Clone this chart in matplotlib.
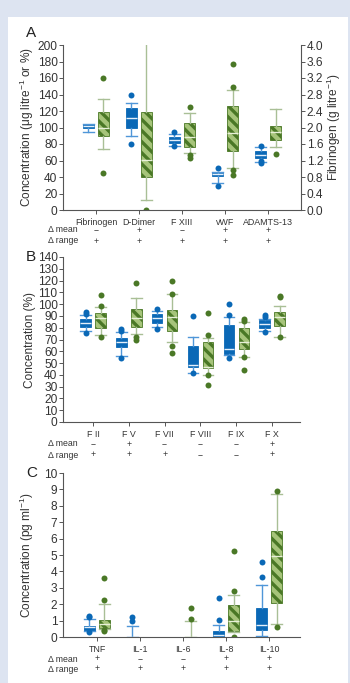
import matplotlib
matplotlib.use("Agg")
import matplotlib.pyplot as plt
from matplotlib.patches import Rectangle

plt.rcParams['font.family'] = ['Liberation Sans', 'DejaVu Sans']
plt.rcParams['mathtext.fontset'] = 'custom'
plt.rcParams['mathtext.rm'] = 'Liberation Sans'
plt.rcParams['mathtext.it'] = 'Liberation Sans:italic'
plt.rcParams['hatch.linewidth'] = 2.4

# ---------------- panel A ----------------
a_cats = ['Fibrinogen', 'D-Dimer', 'F XIII', 'vWF', 'ADAMTS-13']
a_mean = ['\u2212', '+', '\u2212', '+', '+']
a_range = ['+', '+', '+', '+', '+']
# blue series: q1, median, q3, lower whisker, upper whisker, outliers
a_blue_q1 = [100, 100, 81, 41, 63]
a_blue_med = [102, 111, 84.5, 43.5, 66.5]
a_blue_q3 = [104, 124, 88, 45, 72]
a_blue_lo = [95, 90, 78, 33, 58]
a_blue_hi = [104, 130, 92, 46, 76]
a_blue_fl = [[], [140, 80], [95, 77], [50.5, 29], [77.5, 60, 56.5]]
a_green_q1 = [90, 40, 76, 72, 85]
a_green_med = [99, 60.5, 89, 93, 94]
a_green_q3 = [119, 119, 106, 126, 102]
a_green_lo = [74, 12, 69, 51, 76]
a_green_hi = [135, 215, 118, 146, 123]
a_green_fl = [[160, 45], [0], [125, 66.5, 62.5], [176.5, 148.5, 49, 42.5], [68]]

# ---------------- panel B ----------------
b_cats = ['F II', 'F V', 'F VII', 'F VIII', 'F IX', 'F X']
b_mean = ['\u2212', '+', '\u2212', '\u2212', '\u2212', '+']
b_range = ['+', '+', '+', '\u2212', '\u2212', '+']
b_blue_q1 = [80.5, 64, 83.7, 46.4, 57.7, 80]
b_blue_med = [84.3, 68, 88, 48.4, 61.7, 83.2]
b_blue_q3 = [87.3, 71, 91.6, 64.5, 82.3, 86.5]
b_blue_lo = [77.3, 56, 80.3, 41.8, 56.6, 77.5]
b_blue_hi = [90.5, 76.6, 94.2, 71.9, 89.3, 87.4]
b_blue_fl = [[93, 91.6, 75.3], [79.2, 77.5, 54.6], [96.2, 78.6], [90.2, 41.3], [99.9, 91, 54], [90.8, 89.3, 76.6]]
b_green_q1 = [79.6, 80.3, 77.5, 45.6, 61.7, 81.4]
b_green_med = [88, 88, 89.3, 47, 68.1, 88.8]
b_green_q3 = [92.8, 95.6, 95, 67.6, 80, 93]
b_green_lo = [74, 74.4, 68.1, 39.9, 55.4, 71.9]
b_green_hi = [97.5, 105.5, 108.3, 71, 84.6, 98.7]
b_green_fl = [[107.5, 98.5, 72], [118.2, 71.9, 69.6], [119.9, 108.6, 64.5, 58.3],
              [92.2, 73.8, 39.6, 31.4], [87.4, 85.7, 55.4, 44.1], [106.9, 105.8, 71.9]]

# ---------------- panel C ----------------
c_cats = ['TNF', 'IL-1', 'IL-6', 'IL-8', 'IL-10']
c_mean = ['+', '\u2212', '\u2212', '+', '+']
c_range = ['+', '+', '+', '+', '+']
# None = nothing measured above zero for that group
c_blue_q1 = [0.38, 0, None, 0, 0.45]
c_blue_med = [0.59, 0, None, 0.12, 0.75]
c_blue_q3 = [0.69, 0, None, 0.35, 1.76]
c_blue_lo = [0.35, 0, None, 0, 0.08]
c_blue_hi = [1.09, 0.65, None, 0.75, 3.18]
c_blue_fl = [[1.3, 1.21, 0.28], [1.21, 0.95], [], [2.35, 1.01], [4.55, 3.64]]
c_green_q1 = [0.55, None, 0, 0.34, 2.1]
c_green_med = [0.79, None, 0, 1.0, 4.94]
c_green_q3 = [1.05, None, 0, 1.96, 6.46]
c_green_lo = [0.5, None, 0, 0.3, 0.81]
c_green_hi = [2.02, None, 0.95, 2.55, 8.7]
c_green_fl = [[3.58, 2.23, 0.45, 0.35], [], [1.74, 1.09], [5.26, 2.83, 0], [8.9, 0.6]]

BLUE = '#0a68b6'
BLUE_W = '#4f96d8'
GREEN_FACE = '#a6c47a'
GREEN_DARK = '#4a7826'
GREEN_W = '#a9bf96'
SPINE = '#555555'


def make_stats(q1, med, q3, lo, hi, fl):
    stats = []
    idx = []
    for i in range(len(q1)):
        if q1[i] is None:
            continue
        stats.append(dict(q1=q1[i], med=med[i], q3=q3[i], whislo=lo[i], whishi=hi[i], fliers=fl[i]))
        idx.append(i + 1)
    return stats, idx


def draw_pair(ax, blue, green, unit_px):
    off = 7.5 / unit_px
    w = 10.5 / unit_px
    st, pos = make_stats(*blue)
    ax.bxp(st, positions=[p - off for p in pos], widths=w, capwidths=w,
           patch_artist=True, manage_ticks=False,
           boxprops=dict(facecolor=BLUE, edgecolor=BLUE, linewidth=0.6),
           medianprops=dict(color='#e4effa', linewidth=1.0),
           whiskerprops=dict(color=BLUE_W, linewidth=1.0),
           capprops=dict(color=BLUE_W, linewidth=1.0),
           flierprops=dict(marker='o', markersize=4.3, markerfacecolor=BLUE, markeredgecolor='none'))
    st, pos = make_stats(*green)
    ax.bxp(st, positions=[p + off for p in pos], widths=w, capwidths=w,
           patch_artist=True, manage_ticks=False,
           boxprops=dict(facecolor=GREEN_FACE, edgecolor=GREEN_DARK, linewidth=0.6, hatch='\\\\\\'),
           medianprops=dict(color='#e8f0d8', linewidth=1.0),
           whiskerprops=dict(color=GREEN_W, linewidth=1.0),
           capprops=dict(color=GREEN_W, linewidth=1.0),
           flierprops=dict(marker='o', markersize=4.3, markerfacecolor=GREEN_DARK, markeredgecolor='none'))


def style_axis(ax, cats):
    ax.spines['top'].set_visible(False)
    ax.spines['right'].set_visible(False)
    for s in ['left', 'bottom']:
        ax.spines[s].set_color(SPINE)
        ax.spines[s].set_linewidth(0.8)
    ax.tick_params(axis='y', direction='out', length=3, width=0.7, color=SPINE,
                   labelsize=8.6, labelcolor='#333333', pad=1)
    ax.tick_params(axis='x', direction='out', length=3, width=0.7, color=SPINE,
                   labelsize=6.4, labelcolor='#333333', pad=2.5)
    ax.set_xticks(range(1, len(cats) + 1))
    ax.set_xticklabels(cats)


def sign_rows(ax, fig, means, ranges, mean_px, range_px, axis_y_px):
    for i in range(len(means)):
        ax.annotate(means[i], xy=(i + 1, 0), xycoords=('data', 'axes fraction'),
                    xytext=(0, -mean_px * 0.72), textcoords='offset points',
                    ha='center', va='center', fontsize=6.3, color='#333333')
        ax.annotate(ranges[i], xy=(i + 1, 0), xycoords=('data', 'axes fraction'),
                    xytext=(0, -range_px * 0.72), textcoords='offset points',
                    ha='center', va='center', fontsize=6.3, color='#333333')
    fig.text(78 / W, 1 - (axis_y_px + mean_px) / H, '\u0394 mean', ha='right', va='center',
             fontsize=6.3, color='#333333')
    fig.text(78 / W, 1 - (axis_y_px + range_px) / H, '\u0394 range', ha='right', va='center',
             fontsize=6.3, color='#333333')


W, H = 350, 683
fig = plt.figure(figsize=(W / 100, H / 100), dpi=100)
fig.patch.set_facecolor('#dde4f1')
fig.patches.append(Rectangle((8 / W, 0), 340 / W, 1 - 17 / H, transform=fig.transFigure,
                             facecolor='white', edgecolor='none', zorder=-10))

# panel A
axA = fig.add_axes([63 / W, 1 - 210 / H, 238 / W, 165 / H])
draw_pair(axA, (a_blue_q1, a_blue_med, a_blue_q3, a_blue_lo, a_blue_hi, a_blue_fl),
          (a_green_q1, a_green_med, a_green_q3, a_green_lo, a_green_hi, a_green_fl), 43)
style_axis(axA, a_cats)
axA.set_xlim(0.233, 5.767)
axA.set_ylim(0, 200)
axA.set_yticks(range(0, 201, 20))
axA.set_ylabel('Concentration (\u03bcg litre$^{-1}$ or %)', fontsize=8.6, color='#333333')
axA.yaxis.set_label_coords(-0.115, 0.5)
axA2 = axA.twinx()
axA2.set_ylim(0, 4.0)
axA2.set_yticks([i * 0.4 for i in range(11)])
axA2.set_yticklabels(['%.1f' % (i * 0.4) for i in range(11)])
for s in ['top', 'left', 'bottom']:
    axA2.spines[s].set_visible(False)
axA2.spines['right'].set_color(SPINE)
axA2.spines['right'].set_linewidth(0.8)
axA2.tick_params(axis='y', direction='out', length=3, width=0.7, color=SPINE,
                 labelsize=8.6, labelcolor='#333333', pad=1)
axA2.set_ylabel('Fibrinogen (g litre$^{-1}$)', fontsize=8.6, color='#333333', rotation=90)
axA2.yaxis.set_label_coords(1.10, 0.5)
axA2.yaxis.label.set_va('top')
sign_rows(axA, fig, a_mean, a_range, 20, 31, 210)
fig.text(31 / W, 1 - 33 / H, 'A', ha='center', va='center', fontsize=11, color='#222222')

# panel B
axB = fig.add_axes([63 / W, 1 - 422 / H, 237 / W, 165 / H])
draw_pair(axB, (b_blue_q1, b_blue_med, b_blue_q3, b_blue_lo, b_blue_hi, b_blue_fl),
          (b_green_q1, b_green_med, b_green_q3, b_green_lo, b_green_hi, b_green_fl), 35.8)
style_axis(axB, b_cats)
axB.set_xlim(0.162, 6.78)
axB.set_ylim(0, 140)
axB.set_yticks(range(0, 141, 10))
axB.set_ylabel('Concentration (%)', fontsize=8.6, color='#333333')
axB.yaxis.set_label_coords(-0.115, 0.5)
sign_rows(axB, fig, b_mean, b_range, 22, 33, 422)
fig.text(31 / W, 1 - 257 / H, 'B', ha='center', va='center', fontsize=11, color='#222222')

# panel C
axC = fig.add_axes([63 / W, 1 - 637 / H, 237 / W, 164 / H])
draw_pair(axC, (c_blue_q1, c_blue_med, c_blue_q3, c_blue_lo, c_blue_hi, c_blue_fl),
          (c_green_q1, c_green_med, c_green_q3, c_green_lo, c_green_hi, c_green_fl), 43)
style_axis(axC, c_cats)
axC.set_xlim(0.21, 5.72)
axC.set_ylim(0, 10)
axC.set_yticks(range(0, 11))
axC.set_ylabel('Concentration (pg ml$^{-1}$)', fontsize=8.6, color='#333333')
axC.yaxis.set_label_coords(-0.115, 0.5)
sign_rows(axC, fig, c_mean, c_range, 22, 32, 637)
fig.text(32 / W, 1 - 473 / H, 'C', ha='center', va='center', fontsize=11, color='#222222')

fig.savefig('out.png', dpi=100, facecolor=fig.get_facecolor())
